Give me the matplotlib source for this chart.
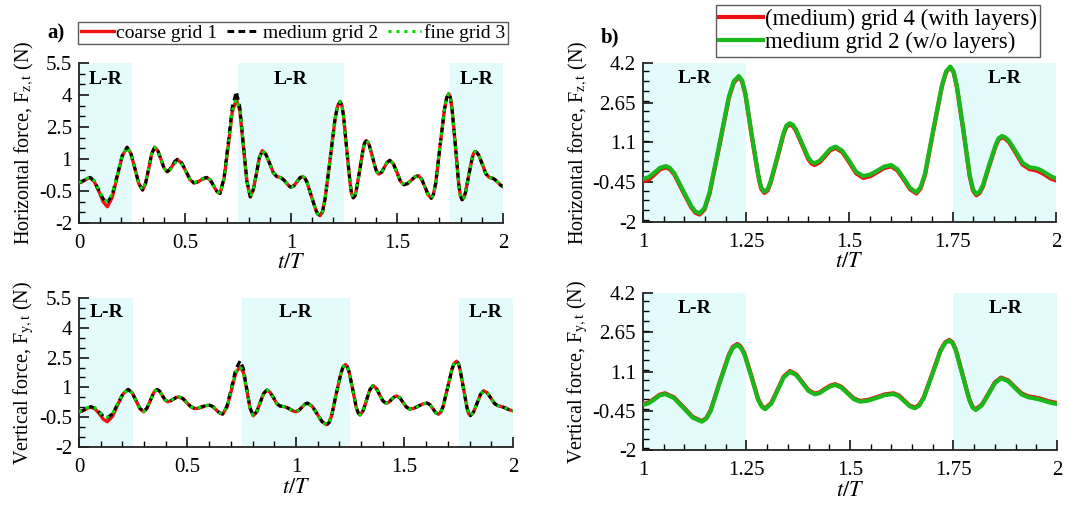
import matplotlib
matplotlib.use('Agg')
import matplotlib.pyplot as plt
import numpy as np
from matplotlib.ticker import MultipleLocator

plt.rcParams['font.family'] = ['Liberation Serif', 'DejaVu Serif']
plt.rcParams['mathtext.fontset'] = 'stix'

# ---- horizontal force, t/T in [0, 2] ----
t_fz = [0.000, 0.013, 0.027, 0.040, 0.053, 0.073, 0.094, 0.114, 0.134, 0.157, 0.181, 0.204, 0.227,
        0.245, 0.264, 0.282, 0.300, 0.314, 0.329, 0.343, 0.357, 0.372, 0.387, 0.401, 0.416,
        0.428, 0.441, 0.453, 0.465, 0.484, 0.504, 0.523, 0.542, 0.558, 0.573, 0.589, 0.604,
        0.619, 0.635, 0.650, 0.665, 0.684, 0.704, 0.723, 0.742, 0.759, 0.775, 0.792, 0.808,
        0.822, 0.837, 0.851, 0.865, 0.882, 0.900, 0.917, 0.934, 0.945, 0.956, 0.967, 0.978, 0.989,
        1.000, 1.014, 1.028, 1.041, 1.055, 1.065, 1.076, 1.096, 1.117, 1.127, 1.137, 1.149, 1.161,
        1.185, 1.208, 1.220, 1.232, 1.240, 1.248, 1.263, 1.279, 1.286, 1.294, 1.302, 1.309, 1.325,
        1.340, 1.347, 1.355, 1.363, 1.370, 1.385, 1.400, 1.408, 1.415, 1.428, 1.441, 1.453, 1.466,
        1.483, 1.500, 1.516, 1.533, 1.550, 1.567, 1.584, 1.601, 1.616, 1.632, 1.647, 1.662, 1.672,
        1.683, 1.703, 1.724, 1.734, 1.744, 1.752, 1.760, 1.776, 1.791, 1.799, 1.807, 1.815, 1.823,
        1.838, 1.854, 1.861, 1.869, 1.877, 1.886, 1.903, 1.919, 1.936, 1.947, 1.957, 1.968, 1.979,
        1.989, 2.000]

fz_medium = [-0.10, -0.06, 0.02, 0.10, 0.14, -0.04, -0.46, -0.87, -1.05, -0.66, 0.25, 1.16, 1.55,
             1.25, 0.55, -0.15, -0.45, -0.15, 0.55, 1.25, 1.55, 1.38, 0.98, 0.58, 0.41,
             0.50, 0.70, 0.90, 0.99, 0.83, 0.44, 0.05, -0.11, -0.07, 0.02, 0.10, 0.14,
             0.03, -0.24, -0.50, -0.61, 0.11, 1.78, 3.44, 4.16, 3.42, 1.70, -0.03, -0.77,
             -0.45, 0.31, 1.07, 1.39, 1.21, 0.78, 0.35, 0.17, 0.15, 0.10, 0.01, -0.12, -0.25,
             -0.32, -0.25, -0.07, 0.11, 0.18, 0.11, -0.10, -0.74, -1.38, -1.59, -1.66, -1.46, -0.86,
             1.02, 2.89, 3.49, 3.69, 3.52, 3.01, 1.44, -0.14, -0.65, -0.82, -0.72, -0.42, 0.52,
             1.45, 1.75, 1.85, 1.79, 1.62, 1.07, 0.52, 0.35, 0.29, 0.39, 0.62, 0.84, 0.94,
             0.77, 0.37, -0.04, -0.21, -0.15, 0.00, 0.16, 0.22, 0.06, -0.31, -0.68, -0.84, -0.65,
             -0.11, 1.61, 3.33, 3.87, 4.06, 3.87, 3.31, 1.58, -0.16, -0.72, -0.91, -0.82, -0.57,
             0.22, 1.01, 1.26, 1.35, 1.30, 1.17, 0.74, 0.31, 0.13, 0.11, 0.07, -0.02, -0.13,
             -0.23, -0.30]

fz_coarse = [-0.12, -0.08, 0.00, 0.08, 0.12, -0.08, -0.52, -1.00, -1.24, -0.80, 0.20, 1.14, 1.55,
             1.25, 0.55, -0.15, -0.46, -0.15, 0.55, 1.25, 1.55, 1.38, 0.98, 0.58, 0.40,
             0.49, 0.69, 0.88, 0.96, 0.81, 0.43, 0.04, -0.13, -0.09, 0.00, 0.08, 0.12,
             0.01, -0.26, -0.52, -0.62, 0.05, 1.60, 3.20, 3.80, 3.25, 1.66, -0.05, -0.78,
             -0.45, 0.31, 1.07, 1.39, 1.21, 0.78, 0.35, 0.17, 0.15, 0.10, 0.01, -0.12, -0.25,
             -0.32, -0.25, -0.07, 0.11, 0.18, 0.11, -0.10, -0.74, -1.38, -1.59, -1.66, -1.46, -0.86,
             1.02, 2.89, 3.49, 3.69, 3.52, 3.01, 1.44, -0.14, -0.65, -0.82, -0.72, -0.42, 0.52,
             1.45, 1.75, 1.85, 1.79, 1.62, 1.07, 0.52, 0.35, 0.29, 0.39, 0.62, 0.84, 0.94,
             0.77, 0.37, -0.04, -0.21, -0.15, 0.00, 0.16, 0.22, 0.06, -0.31, -0.68, -0.84, -0.65,
             -0.11, 1.61, 3.33, 3.87, 4.06, 3.87, 3.31, 1.58, -0.16, -0.72, -0.91, -0.82, -0.57,
             0.22, 1.01, 1.26, 1.35, 1.30, 1.17, 0.74, 0.31, 0.13, 0.11, 0.07, -0.02, -0.13,
             -0.23, -0.30]

fz_fine = [-0.10, -0.06, 0.02, 0.10, 0.14, -0.03, -0.44, -0.84, -1.00, -0.63, 0.26, 1.16, 1.55,
           1.25, 0.55, -0.15, -0.45, -0.15, 0.55, 1.25, 1.55, 1.38, 0.98, 0.58, 0.40,
           0.47, 0.64, 0.82, 0.88, 0.77, 0.41, 0.04, -0.11, -0.07, 0.02, 0.10, 0.14,
           0.03, -0.24, -0.50, -0.61, 0.06, 1.62, 3.25, 3.80, 3.30, 1.68, -0.04, -0.77,
           -0.45, 0.31, 1.07, 1.39, 1.21, 0.78, 0.35, 0.17, 0.15, 0.10, 0.01, -0.12, -0.25,
           -0.32, -0.25, -0.07, 0.11, 0.18, 0.11, -0.10, -0.74, -1.38, -1.59, -1.66, -1.46, -0.86,
           1.02, 2.89, 3.49, 3.69, 3.52, 3.01, 1.44, -0.14, -0.65, -0.82, -0.72, -0.42, 0.52,
           1.45, 1.75, 1.85, 1.79, 1.62, 1.07, 0.52, 0.35, 0.29, 0.39, 0.62, 0.84, 0.94,
           0.77, 0.37, -0.04, -0.21, -0.15, 0.00, 0.16, 0.22, 0.06, -0.31, -0.68, -0.84, -0.65,
           -0.11, 1.61, 3.33, 3.87, 4.06, 3.87, 3.31, 1.58, -0.16, -0.72, -0.91, -0.82, -0.57,
           0.22, 1.01, 1.26, 1.35, 1.30, 1.17, 0.74, 0.31, 0.13, 0.11, 0.07, -0.02, -0.13,
           -0.23, -0.30]

# grid 4 (with layers), t/T in [1, 2], same instants as t_fz from 1.000 on
fz_grid4 = [-0.42, -0.35, -0.15, 0.05, 0.13, 0.06, -0.15, -0.79, -1.43, -1.64, -1.71, -1.51, -0.91,
            0.97, 2.84, 3.44, 3.65, 3.48, 2.97, 1.39, -0.19, -0.70, -0.87, -0.77, -0.47, 0.47,
            1.40, 1.70, 1.80, 1.74, 1.57, 1.02, 0.46, 0.28, 0.22, 0.33, 0.56, 0.79, 0.89,
            0.72, 0.31, -0.10, -0.28, -0.22, -0.06, 0.10, 0.17, 0.01, -0.36, -0.73, -0.89, -0.70,
            -0.16, 1.56, 3.30, 3.84, 4.04, 3.84, 3.27, 1.53, -0.21, -0.77, -0.96, -0.87, -0.62,
            0.17, 0.96, 1.21, 1.30, 1.25, 1.12, 0.68, 0.24, 0.06, 0.03, -0.02, -0.11, -0.22,
            -0.32, -0.38]

# ---- vertical force, t/T in [0, 2] ----
t_fy = [0.000, 0.014, 0.028, 0.042, 0.056, 0.075, 0.094, 0.112, 0.131, 0.155, 0.179, 0.203, 0.227,
        0.245, 0.263, 0.280, 0.298, 0.313, 0.329, 0.344, 0.359, 0.372, 0.384, 0.397, 0.409,
        0.422, 0.435, 0.448, 0.461, 0.479, 0.497, 0.515, 0.533, 0.550, 0.568, 0.585, 0.602,
        0.617, 0.632, 0.647, 0.662, 0.682, 0.703, 0.723, 0.743, 0.758, 0.773, 0.788, 0.803,
        0.819, 0.835, 0.850, 0.866, 0.881, 0.897, 0.912, 0.927, 0.940, 0.953, 0.965, 0.977, 0.988,
        1.000, 1.013, 1.027, 1.040, 1.053, 1.075, 1.098, 1.120, 1.142, 1.153, 1.164, 1.185, 1.207,
        1.217, 1.228, 1.236, 1.245, 1.262, 1.278, 1.287, 1.295, 1.310, 1.325, 1.340, 1.355,
        1.370, 1.385, 1.400, 1.415, 1.427, 1.440, 1.452, 1.464, 1.479, 1.494, 1.509, 1.524,
        1.544, 1.565, 1.585, 1.605, 1.618, 1.631, 1.644, 1.657, 1.667, 1.678, 1.699, 1.719,
        1.730, 1.740, 1.748, 1.756, 1.772, 1.788, 1.796, 1.804, 1.819, 1.835, 1.850, 1.865,
        1.882, 1.898, 1.915, 1.931, 1.942, 1.954, 1.966, 1.977, 1.989, 2.000]

fy_medium = [-0.22, -0.18, -0.10, -0.01, 0.03, -0.05, -0.25, -0.45, -0.53, -0.32, 0.19, 0.69, 0.90,
             0.73, 0.34, -0.05, -0.22, -0.05, 0.34, 0.73, 0.90, 0.81, 0.59, 0.37, 0.28,
             0.32, 0.41, 0.49, 0.53, 0.44, 0.24, 0.04, -0.05, -0.03, 0.03, 0.09, 0.11,
             0.04, -0.12, -0.27, -0.34, 0.06, 1.00, 1.94, 2.34, 1.94, 0.96, -0.01, -0.42,
             -0.23, 0.23, 0.68, 0.87, 0.75, 0.47, 0.18, 0.06, 0.04, 0.01, -0.05, -0.12, -0.19,
             -0.22, -0.16, -0.01, 0.15, 0.21, 0.05, -0.34, -0.72, -0.88, -0.76, -0.44, 0.64, 1.70,
             2.03, 2.15, 2.05, 1.78, 0.88, -0.01, -0.29, -0.39, -0.17, 0.35, 0.87, 1.09,
             0.96, 0.65, 0.33, 0.20, 0.25, 0.39, 0.51, 0.57, 0.47, 0.24, 0.01, -0.09,
             -0.05, 0.06, 0.17, 0.21, 0.13, -0.07, -0.27, -0.35, -0.25, 0.04, 0.99, 1.92,
             2.22, 2.32, 2.22, 1.92, 0.95, -0.01, -0.32, -0.42, -0.23, 0.21, 0.64, 0.83,
             0.72, 0.46, 0.19, 0.08, 0.05, 0.01, -0.04, -0.10, -0.15, -0.18]

fy_coarse = [-0.24, -0.20, -0.12, -0.03, 0.01, -0.09, -0.33, -0.60, -0.73, -0.45, 0.14, 0.67, 0.90,
             0.73, 0.34, -0.05, -0.23, -0.06, 0.34, 0.73, 0.90, 0.81, 0.59, 0.37, 0.28,
             0.32, 0.41, 0.49, 0.52, 0.43, 0.23, 0.03, -0.07, -0.05, 0.01, 0.08, 0.10,
             0.03, -0.13, -0.28, -0.35, 0.00, 0.88, 1.75, 2.04, 1.75, 0.90, -0.03, -0.43,
             -0.23, 0.23, 0.68, 0.87, 0.75, 0.47, 0.18, 0.06, 0.04, 0.01, -0.05, -0.12, -0.19,
             -0.22, -0.16, -0.01, 0.15, 0.21, 0.05, -0.34, -0.72, -0.88, -0.76, -0.44, 0.64, 1.70,
             2.03, 2.15, 2.05, 1.78, 0.88, -0.01, -0.29, -0.39, -0.17, 0.35, 0.87, 1.09,
             0.96, 0.65, 0.33, 0.20, 0.25, 0.39, 0.51, 0.57, 0.47, 0.24, 0.01, -0.09,
             -0.05, 0.06, 0.17, 0.21, 0.13, -0.07, -0.27, -0.35, -0.25, 0.04, 0.99, 1.92,
             2.22, 2.32, 2.22, 1.92, 0.95, -0.01, -0.32, -0.42, -0.23, 0.21, 0.64, 0.83,
             0.72, 0.46, 0.19, 0.08, 0.05, 0.01, -0.04, -0.10, -0.15, -0.18]

fy_fine = [-0.22, -0.18, -0.10, -0.01, 0.03, -0.05, -0.24, -0.43, -0.50, -0.30, 0.20, 0.69, 0.90,
           0.73, 0.34, -0.05, -0.22, -0.05, 0.34, 0.73, 0.90, 0.81, 0.59, 0.37, 0.28,
           0.32, 0.41, 0.49, 0.53, 0.44, 0.24, 0.04, -0.05, -0.03, 0.03, 0.09, 0.11,
           0.04, -0.12, -0.27, -0.34, 0.02, 0.90, 1.78, 2.04, 1.76, 0.92, -0.02, -0.42,
           -0.23, 0.23, 0.68, 0.87, 0.75, 0.47, 0.18, 0.06, 0.04, 0.01, -0.05, -0.12, -0.19,
           -0.22, -0.16, -0.01, 0.15, 0.21, 0.05, -0.34, -0.72, -0.88, -0.76, -0.44, 0.64, 1.70,
           2.03, 2.15, 2.05, 1.78, 0.88, -0.01, -0.29, -0.39, -0.17, 0.35, 0.87, 1.09,
           0.96, 0.65, 0.33, 0.20, 0.25, 0.39, 0.51, 0.57, 0.47, 0.24, 0.01, -0.09,
           -0.05, 0.06, 0.17, 0.21, 0.13, -0.07, -0.27, -0.35, -0.25, 0.04, 0.99, 1.92,
           2.22, 2.32, 2.22, 1.92, 0.95, -0.01, -0.32, -0.42, -0.23, 0.21, 0.64, 0.83,
           0.72, 0.46, 0.19, 0.08, 0.05, 0.01, -0.04, -0.10, -0.15, -0.18]

# grid 4 (with layers), t/T in [1, 2], same instants as t_fy from 1.000 on
fy_grid4 = [-0.19, -0.13, 0.02, 0.18, 0.24, 0.08, -0.31, -0.69, -0.86, -0.74, -0.41, 0.67, 1.74,
            2.07, 2.19, 2.09, 1.82, 0.92, 0.02, -0.26, -0.36, -0.14, 0.38, 0.90, 1.12,
            0.99, 0.68, 0.36, 0.23, 0.28, 0.42, 0.54, 0.60, 0.50, 0.27, 0.04, -0.06,
            -0.02, 0.09, 0.20, 0.24, 0.16, -0.04, -0.24, -0.32, -0.22, 0.07, 1.02, 1.95,
            2.25, 2.35, 2.25, 1.95, 0.98, 0.02, -0.29, -0.39, -0.20, 0.24, 0.67, 0.86,
            0.75, 0.49, 0.23, 0.12, 0.09, 0.05, 0.00, -0.06, -0.11, -0.14]

lr_bands = [(0.0, 0.25), (0.75, 1.25), (1.75, 2.0)]

shade = '#e3fbfb'
red = '#ee1111'
grn = '#1bb81b'

fig = plt.figure(figsize=(10.7, 5.09), dpi=100)
ax_a1 = fig.add_axes([0.0738, 0.5619, 0.3963, 0.3143])
ax_a2 = fig.add_axes([0.0738, 0.1218, 0.4056, 0.2927])
ax_b1 = fig.add_axes([0.6009, 0.5639, 0.3860, 0.3124])
ax_b2 = fig.add_axes([0.6009, 0.1159, 0.3869, 0.3084])


def style(ax, xlim, ylim, yt, ymin, xt, xmin, xlabels):
    ax.set_xlim(*xlim)
    ax.set_ylim(*ylim)
    ax.set_yticks(yt)
    ax.set_xticks(xt)
    ax.set_xticklabels(xlabels)
    ax.set_yticklabels([('%g' % v) for v in yt])
    ax.yaxis.set_minor_locator(MultipleLocator(ymin))
    ax.xaxis.set_minor_locator(MultipleLocator(xmin))
    ax.spines['top'].set_visible(False)
    ax.spines['right'].set_visible(False)
    for s in ['left', 'bottom']:
        ax.spines[s].set_linewidth(1.3)
        ax.spines[s].set_color('#222222')
    ax.tick_params(which='major', direction='in', length=7, width=1.1, labelsize=15)
    ax.tick_params(axis='y', which='major', pad=5)
    ax.tick_params(axis='x', which='major', pad=8)
    ax.tick_params(which='minor', direction='in', length=4, width=1.0)
    ax.set_xlabel(r'$t/T$', fontsize=16, labelpad=1)


def bands(ax, lo, hi):
    for a, b in lr_bands:
        a = max(a, lo)
        b = min(b, hi)
        if b <= a:
            continue
        ax.axvspan(a, b, color=shade, lw=0, zorder=0)
        ax.text((a + b) / 2, 0.9, 'L-R', transform=ax.get_xaxis_transform(),
                ha='center', va='center', fontsize=14, fontweight='bold')


yt_a = [-2, -0.5, 1, 2.5, 4, 5.5]
yt_b = [-2, -0.45, 1.1, 2.65, 4.2]
xt_a = [0, 0.5, 1, 1.5, 2]
xt_b = [1, 1.25, 1.5, 1.75, 2]

for ax, tt, c, m, f, lab in [(ax_a1, t_fz, fz_coarse, fz_medium, fz_fine, r'Horizontal force, F$_{\mathrm{z,t}}$ (N)'),
                             (ax_a2, t_fy, fy_coarse, fy_medium, fy_fine, r'Vertical force, F$_{\mathrm{y,t}}$ (N)')]:
    style(ax, (0, 2), (-2, 5.5), yt_a, 0.5, xt_a, 0.1, ['0', '0.5', '1', '1.5', '2'])
    bands(ax, 0, 2)
    l1, = ax.plot(tt, c, color=red, lw=2.4, zorder=3, label='coarse grid 1')
    l2, = ax.plot(tt, m, color='black', lw=2.2, ls=(0, (2.2, 1.4)), zorder=4, label='medium grid 2')
    l3, = ax.plot(tt, f, color='#00dd00', lw=2.2, ls=(0, (1, 1.6)), zorder=5, label='fine grid 3')
    ax.set_ylabel(lab, fontsize=14.5, labelpad=2)

t_fz_b = t_fz[t_fz.index(1.000):]
t_fy_b = t_fy[t_fy.index(1.000):]
fz_grid2 = fz_medium[t_fz.index(1.000):]
fy_grid2 = fy_medium[t_fy.index(1.000):]

for ax, tt, g4, g2, lab in [(ax_b1, t_fz_b, fz_grid4, fz_grid2, r'Horizontal force, F$_{\mathrm{z,t}}$ (N)'),
                            (ax_b2, t_fy_b, fy_grid4, fy_grid2, r'Vertical force, F$_{\mathrm{y,t}}$ (N)')]:
    style(ax, (1, 2), (-2, 4.2), yt_b, 1.55 / 4, xt_b, 0.05, ['1', '1.25', '1.5', '1.75', '2'])
    bands(ax, 1, 2)
    r1, = ax.plot(tt, g4, color=red, lw=3.0, zorder=3, solid_joinstyle='round',
                  label='(medium) grid 4 (with layers)')
    r2, = ax.plot(tt, g2, color=grn, lw=3.0, zorder=4, solid_joinstyle='round',
                  label='medium grid 2 (w/o layers)')
    ax.set_ylabel(lab, fontsize=14.5, labelpad=2)

leg_a = fig.legend(handles=[l1, l2, l3], loc='center', bbox_to_anchor=(293 / 1070, 1 - 33 / 509),
                   ncol=3, fontsize=14, frameon=True, fancybox=False, edgecolor='#333333',
                   handlelength=1.7, handletextpad=0.15, columnspacing=0.5, borderpad=0.12,
                   borderaxespad=0)
leg_a.get_frame().set_linewidth(1.0)
leg_b = fig.legend(handles=[r1, r2], loc='center', bbox_to_anchor=(878 / 1070, 1 - 31 / 509),
                   ncol=1, fontsize=16.5, frameon=True, fancybox=False, edgecolor='#333333',
                   handlelength=1.9, handletextpad=0.1, borderpad=0.15, labelspacing=0.1,
                   borderaxespad=0)
leg_b.get_frame().set_linewidth(1.0)

fig.text(56 / 1070, 1 - 33 / 509, 'a)', fontsize=15, fontweight='bold', ha='center', va='center')
fig.text(610 / 1070, 1 - 37 / 509, 'b)', fontsize=15, fontweight='bold', ha='center', va='center')

plt.savefig('out.png', dpi=100)
